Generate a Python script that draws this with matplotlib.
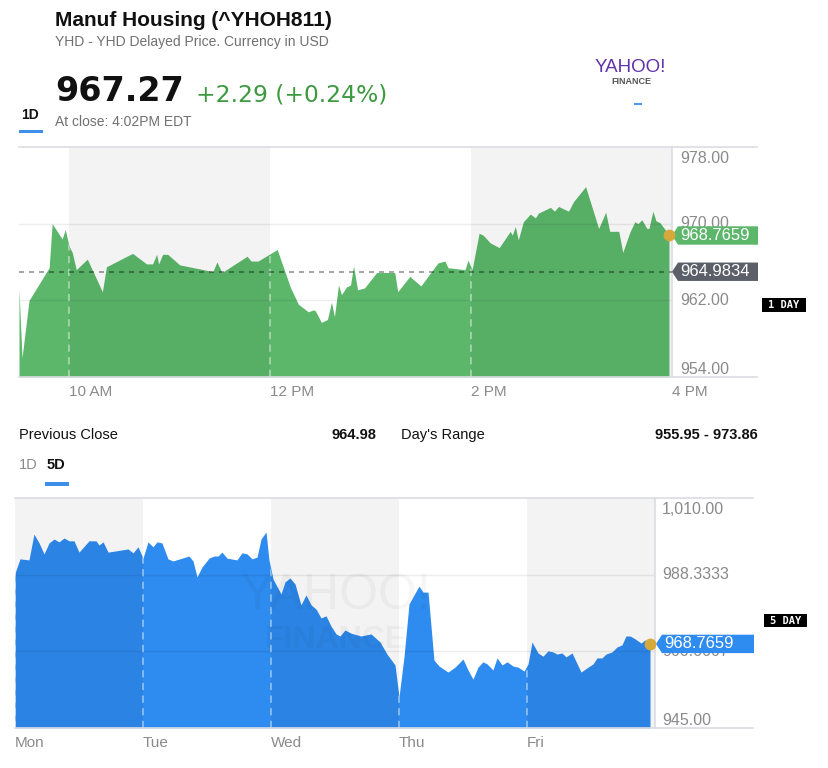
import matplotlib
matplotlib.use('Agg')
import matplotlib.pyplot as plt
import matplotlib.transforms as mtransforms
from matplotlib.patches import Polygon, Rectangle

W, H = 829, 768
plt.rcParams['font.family'] = ['Liberation Sans', 'DejaVu Sans']

# ---------------- data ----------------
title = "Manuf Housing (^YHOH811)"
subtitle = "YHD - YHD Delayed Price. Currency in USD"
last_close_text = "967.27"
change_text = "+2.29 (+0.24%)"
close_time_text = "At close: 4:02PM EDT"

prev_close = 964.9834
last_price = 968.7659

day_hours = [9.50, 9.53, 9.60, 9.80, 9.83, 9.93, 9.96, 10.00, 10.03, 10.07,
             10.18, 10.33, 10.37, 10.63, 10.77, 10.83, 10.87, 10.89, 10.93, 10.98,
             11.10, 11.43, 11.47, 11.52, 11.77, 11.81, 11.88, 12.07, 12.20, 12.28,
             12.38, 12.43, 12.45, 12.51, 12.57, 12.61, 12.64, 12.68, 12.71, 12.76,
             12.80, 12.83, 12.87, 12.94, 13.06, 13.24, 13.27, 13.39, 13.50, 13.67,
             13.74, 13.77, 13.94, 13.97, 14.01, 14.08, 14.12, 14.19, 14.28, 14.39,
             14.41, 14.44, 14.47, 14.52, 14.59, 14.64, 14.67, 14.79, 14.83, 14.87,
             14.97, 15.02, 15.14, 15.27, 15.34, 15.38, 15.47, 15.51, 15.58, 15.63,
             15.66, 15.70, 15.75, 15.77, 15.81, 15.84, 15.88, 15.93, 15.97]
day_prices = [963.1, 956.0, 962.0, 965.4, 970.0, 968.4, 969.4, 967.6, 967.0, 965.2,
              966.3, 962.9, 965.5, 966.9, 965.8, 965.8, 966.8, 965.8, 966.8, 966.8,
              965.7, 965.0, 966.0, 964.9, 966.6, 966.1, 966.1, 967.3, 963.4, 961.6,
              960.8, 961.0, 960.9, 959.7, 960.0, 961.8, 960.3, 963.6, 962.6, 963.4,
              963.6, 965.6, 963.1, 963.3, 964.9, 964.9, 962.9, 964.5, 963.5, 965.9,
              966.1, 965.4, 965.2, 966.2, 965.2, 969.0, 968.8, 968.0, 967.5, 969.2,
              968.8, 969.7, 968.3, 970.2, 971.0, 970.6, 971.1, 971.7, 971.3, 971.8,
              971.3, 972.3, 973.86, 969.5, 971.2, 969.2, 969.2, 967.0, 969.1, 970.2,
              970.0, 970.4, 969.5, 969.5, 971.3, 970.3, 970.1, 969.4, 968.77]
day_xlim = (9.5, 16.0)
day_ylim = (954.0, 978.0)
day_xticks = [10, 12, 14, 16]
day_xtick_labels = ['10 AM', '12 PM', '2 PM', '4 PM']
day_yticks = [954, 962, 970, 978]
day_ytick_labels = ['954.00', '962.00', '970.00', '978.00']
day_shaded = [(10, 12), (14, 16)]
day_dashed = [10, 12, 14]

week_days = [0.000, 0.039, 0.109, 0.148, 0.188, 0.227, 0.266, 0.305, 0.344, 0.383,
             0.422, 0.461, 0.500, 0.578, 0.633, 0.656, 0.688, 0.727, 0.883, 0.922,
             0.961, 1.000, 1.039, 1.078, 1.109, 1.148, 1.195, 1.234, 1.359, 1.391,
             1.422, 1.461, 1.516, 1.555, 1.586, 1.617, 1.656, 1.734, 1.773, 1.813,
             1.852, 1.891, 1.922, 1.961, 1.984, 2.016, 2.078, 2.109, 2.148, 2.188,
             2.234, 2.273, 2.313, 2.352, 2.391, 2.430, 2.469, 2.508, 2.539, 2.578,
             2.625, 2.703, 2.781, 2.852, 2.906, 2.969, 3.000, 3.039, 3.078, 3.117,
             3.156, 3.188, 3.227, 3.273, 3.313, 3.383, 3.438, 3.500, 3.539, 3.578,
             3.617, 3.656, 3.688, 3.734, 3.766, 3.805, 3.844, 3.891, 3.930, 3.977,
             4.008, 4.039, 4.086, 4.125, 4.164, 4.203, 4.234, 4.273, 4.305, 4.352,
             4.422, 4.477, 4.516, 4.547, 4.586, 4.617, 4.664, 4.703, 4.742, 4.773,
             4.805, 4.844, 4.891, 4.922, 4.961]
week_prices = [988.8, 992.8, 992.5, 999.8, 997.3, 994.2, 997.3, 998.4, 997.6, 998.7,
               997.9, 997.9, 994.7, 997.9, 997.9, 996.7, 997.6, 994.7, 995.6, 994.5,
               996.2, 993.0, 997.6, 996.2, 997.6, 997.3, 992.8, 992.2, 993.6, 992.2,
               987.7, 990.5, 993.0, 993.6, 993.6, 994.7, 993.0, 992.5, 994.5, 994.2,
               992.8, 993.3, 998.4, 1000.4, 992.5, 987.1, 982.9, 986.3, 987.4, 985.7,
               979.8, 982.6, 979.8, 978.6, 976.1, 976.7, 973.8, 971.6, 971.0, 972.7,
               971.8, 971.0, 971.6, 969.3, 965.9, 962.8, 953.8, 965.1, 980.0, 982.6,
               985.1, 983.4, 983.4, 964.2, 962.5, 960.8, 962.2, 964.5, 961.4, 958.8,
               962.2, 963.7, 963.1, 961.4, 964.8, 962.8, 963.7, 962.5, 962.2, 961.1,
               963.1, 969.3, 966.2, 965.3, 966.8, 966.5, 965.9, 966.2, 965.1, 966.2,
               960.8, 962.2, 963.1, 964.8, 964.8, 965.9, 966.5, 967.9, 968.5, 971.0,
               971.0, 970.2, 969.0, 969.9, 968.77]
week_xlim = (0.0, 5.0)
week_ylim = (945.0, 1010.0)
week_xticks = [0, 1, 2, 3, 4]
week_xtick_labels = ['Mon', 'Tue', 'Wed', 'Thu', 'Fri']
week_yticks = [945.0, 966.6667, 988.3333, 1010.0]
week_ytick_labels = ['945.00', '966.6667', '988.3333', '1,010.00']
week_shaded = [(0, 1), (2, 3), (4, 5)]
week_dashed = [0, 1, 2, 3, 4]

stats_left = ('Previous Close', '964.98')
stats_right = ("Day's Range", '955.95 - 973.86')

# ---------------- styles ----------------
GREEN = '#5cb76b'
BLUE = '#2e8bef'
GOLD = '#d7a83a'
TAGGRAY = '#5b6068'
TICKGRAY = '#8a8a8a'
FRAME = '#dcdde3'

fig = plt.figure(figsize=(W / 100, H / 100), dpi=100)
fig.patch.set_facecolor('white')


def ftext(x, y, s, **kw):
    return fig.text(x / W, 1 - y / H, s, **kw)


def frect(x0, y0, x1, y1, color):
    fig.patches.append(Rectangle((x0 / W, 1 - y1 / H), (x1 - x0) / W, (y1 - y0) / H,
                                 transform=fig.transFigure, fc=color, ec='none'))


# ---------------- header ----------------
ftext(55, 26, title, fontsize=15, fontweight='bold', va='baseline', color='#111111')
ftext(55, 46, subtitle, fontsize=10, va='baseline', color='#707070')
ftext(55, 101, last_close_text, fontsize=24, fontweight='bold', va='baseline',
      color='#111111', family='DejaVu Sans')
ftext(196, 102, change_text, fontsize=16.8, va='baseline', color='#3d9a40',
      family='DejaVu Sans')
ftext(55, 126, close_time_text, fontsize=10, va='baseline', color='#707070')
ftext(21, 119, '1D', fontsize=10, fontweight='bold', va='baseline', color='#111111')
frect(19, 130, 43, 133, '#3d8fe8')

# Yahoo Finance logo
ftext(630, 68, 'YAHOO!', fontsize=13.5, ha='center', va='center', color='#6033a8')
ftext(631, 81, 'FINANCE', fontsize=6.5, ha='center', va='center', color='#555555',
      fontweight='bold')
frect(634, 103, 642, 105, '#4a9af0')

# stats row
ftext(19, 435, stats_left[0], fontsize=10.5, va='center', color='#111111')
ftext(376, 435, stats_left[1], fontsize=10.5, va='center', ha='right',
      fontweight='bold', color='#111111')
ftext(401, 435, stats_right[0], fontsize=10.5, va='center', color='#111111')
ftext(758, 435, stats_right[1], fontsize=10.5, va='center', ha='right',
      fontweight='bold', color='#111111')
ftext(19, 465, '1D', fontsize=10.5, va='center', color='#8a8a8a')
ftext(47, 465, '5D', fontsize=10.5, va='center', fontweight='bold', color='#111111')
frect(45, 482, 69, 486, '#3d8fe8')


# ---------------- chart helper ----------------
def draw_chart(rect_px, xs, ys, xlim, ylim, xticks, xlabels, yticks, ylabels,
               shaded, dashed, color, ref_value, ext_px, tag_px, label_x_px, daytag):
    x0, y0, x1, y1 = rect_px
    ax = fig.add_axes([x0 / W, 1 - y1 / H, (x1 - x0) / W, (y1 - y0) / H])
    ax.set_xlim(*xlim)
    ax.set_ylim(*ylim)
    ax.set_facecolor('white')
    for s in ax.spines.values():
        s.set_visible(False)
    wpx = x1 - x0
    hpx = y1 - y0
    # fill
    area = ax.fill_between(xs, ys, ylim[0], color=color, lw=0, zorder=1)
    # shaded bands (overlay)
    for a, b in shaded:
        ax.axvspan(a, b, color='black', alpha=0.047, lw=0, zorder=2)
    # gridlines
    for v in yticks[1:-1]:
        ax.axhline(v, color='black', alpha=0.07, lw=1, zorder=2.2)
    # dashed vertical separators (visible only inside the area)
    for d in dashed:
        ln = ax.axvline(d, color='white', alpha=0.45, lw=1.3, ls=(0, (4, 3)), zorder=3)
        ln.set_clip_path(area.get_paths()[0], area.get_transform())
    # frame lines
    ext = (ext_px - x0) / wpx
    ax.plot([0, ext], [1, 1], transform=ax.transAxes, color=FRAME, lw=1.2,
            clip_on=False, zorder=4)
    ax.plot([0, ext], [0, 0], transform=ax.transAxes, color=FRAME, lw=1.2,
            clip_on=False, zorder=4)
    ax.plot([1, 1], [0, 1], transform=ax.transAxes, color=FRAME, lw=1.2,
            clip_on=False, zorder=4)
    # x ticks
    ax.set_xticks(xticks)
    ax.set_xticklabels(xlabels, ha='left', fontsize=11, color=TICKGRAY)
    ax.tick_params(axis='x', length=0, pad=6)
    ax.set_yticks([])
    trans = mtransforms.blended_transform_factory(ax.transAxes, ax.transData)
    # y labels, drawn at the tick values
    lx = (label_x_px - x0) / wpx
    n = len(yticks)
    for i, (v, lab) in enumerate(zip(yticks, ylabels)):
        if i == 0:
            va, dy = 'bottom', 0
        elif i == n - 1:
            va, dy = 'top', -4
        else:
            va, dy = 'center', 0
        tr = mtransforms.offset_copy(trans, fig=fig, x=0, y=dy, units='dots')
        ax.text(lx, v, lab, transform=tr, fontsize=11.5, color=TICKGRAY,
                va=va, ha='left', clip_on=False, zorder=4.5)
    # previous close line
    if ref_value is not None:
        ax.axhline(ref_value, color='black', alpha=0.42, lw=1.2, ls=(0, (3, 3)),
                   zorder=4)
    dpp = (ylim[1] - ylim[0]) / hpx

    def tag(value, text, fc):
        tip, bx, right = [(p - x0) / wpx for p in tag_px]
        hh = 9.2 * dpp
        poly = Polygon([[tip, value], [bx, value + hh], [right, value + hh],
                        [right, value - hh], [bx, value - hh]], closed=True,
                       transform=trans, fc=fc, ec='none', clip_on=False, zorder=6)
        ax.add_patch(poly)
        ax.text(bx + 2 / wpx, value, text, transform=trans, color='white',
                fontsize=12, va='center', ha='left', zorder=7, clip_on=False)

    if ref_value is not None:
        tag(ref_value, f'{ref_value:.4f}', TAGGRAY)
    tag(last_price, f'{last_price:.4f}', color)
    ax.plot([xs[-1]], [ys[-1]], 'o', ms=8.5, color=GOLD, mec='none',
            clip_on=False, zorder=8)
    # period badge
    bx0, by0, bx1, by1, label = daytag
    frect(bx0, by0, bx1, by1, 'black')
    ftext((bx0 + bx1) / 2, (by0 + by1) / 2 + 0.5, label, fontsize=7.5,
          fontweight='bold', ha='center', va='center', color='white',
          family='DejaVu Sans Mono')
    return ax


ax1 = draw_chart((19, 147, 672, 377), day_hours, day_prices, day_xlim, day_ylim,
                 day_xticks, day_xtick_labels, day_yticks, day_ytick_labels,
                 day_shaded, day_dashed, GREEN, prev_close, 757,
                 (672, 678, 758), 680, (762, 298, 806, 312, '1 DAY'))

ax2 = draw_chart((15, 498, 655, 728), week_days, week_prices, week_xlim, week_ylim,
                 week_xticks, week_xtick_labels, week_yticks, week_ytick_labels,
                 week_shaded, week_dashed, BLUE, None, 753,
                 (656, 662, 754), 662, (764, 614, 807, 627, '5 DAY'))

# faint watermark in the 5-day chart
ax2.text(0.502, 0.574, 'YAHOO!', transform=ax2.transAxes, fontsize=36, ha='center',
         va='center', color='black', alpha=0.035, zorder=5)
ax2.text(0.502, 0.383, 'FINANCE', transform=ax2.transAxes, fontsize=23, ha='center',
         va='center', color='black', alpha=0.035, zorder=5, fontweight='bold')

fig.savefig('out.png', dpi=100, facecolor='white')
